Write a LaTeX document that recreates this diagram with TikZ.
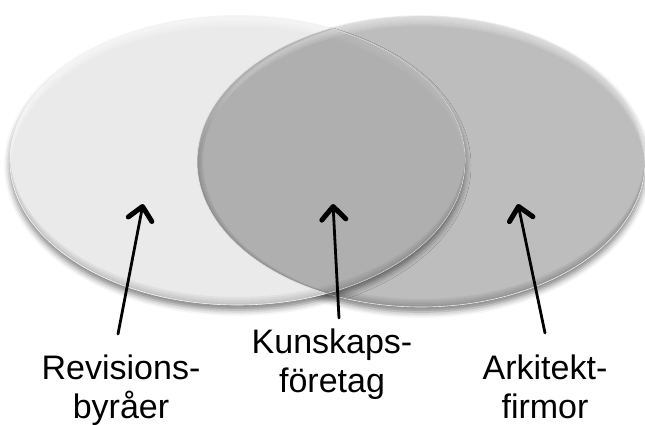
\documentclass[tikz,border=0pt]{standalone}
\usepackage{fontspec}
\setmainfont{Liberation Sans}
\usetikzlibrary{arrows.meta,shadows.blur}

\definecolor{lightfill}{HTML}{EAEAEA}
\definecolor{darkfill}{HTML}{BDBDBD}

\tikzset{
  ellL/.style={x radius=227.5, y radius=144.5},
  ellR/.style={x radius=224, y radius=145.5},
  softshadow/.style={blur shadow={shadow xshift=0pt, shadow yshift=-5pt,
      shadow blur radius=6pt, shadow opacity=50}},
  pointer/.style={line width=2.8pt, line cap=round,
      -{Straight Barb[length=13pt, width=24pt, line width=5pt, round]}},
  label/.style={font=\fontsize{34}{39}\selectfont, align=center, inner sep=0pt},
}

\begin{document}
\begin{tikzpicture}[x=1pt, y=-1pt]
  \useasboundingbox (0,0) rectangle (645,424);

  \coordinate (cL) at (237.5,160.5);
  \coordinate (cR) at (421,161.5);

  % right set (bottom layer)
  \path[softshadow] (cR) ellipse[ellR];
  \fill[darkfill] (cR) ellipse[ellR];
  \begin{scope}
    \clip (cR) ellipse[ellR];
    \foreach \k in {2,4,6,8,10}
      \fill[white, opacity=.12, even odd rule]
        (cR) ellipse[ellR] ([yshift=-\k pt]cR) ellipse[ellR];
    \foreach \k in {2,4,6,8}
      \fill[black, opacity=.05, even odd rule]
        (cR) ellipse[ellR] ([yshift=\k pt]cR) ellipse[ellR];
  \end{scope}
  \draw[white!85!gray, line width=.6pt] (cR) ellipse[ellR];

  % left set
  \path[softshadow] (cL) ellipse[ellL];
  \fill[lightfill] (cL) ellipse[ellL];
  \begin{scope}
    \clip (cL) ellipse[ellL];
    \foreach \k in {2,4,6,8,10}
      \fill[white, opacity=.15, even odd rule]
        (cL) ellipse[ellL] ([yshift=-\k pt]cL) ellipse[ellL];
    \foreach \k in {2,4,6,8}
      \fill[black, opacity=.04, even odd rule]
        (cL) ellipse[ellL] ([yshift=\k pt]cL) ellipse[ellL];
  \end{scope}
  \draw[white!92!gray, line width=.6pt] (cL) ellipse[ellL];

  % right set seen through, over the left one
  \begin{scope}
    \clip (cL) ellipse[ellL];
    \fill[black, opacity=.25] (cR) ellipse[ellR];
    \begin{scope}
      \clip (cR) ellipse[ellR];
      \foreach \k in {2,4,6,8,10}
        \fill[white, opacity=.10, even odd rule]
          (cR) ellipse[ellR] ([yshift=-\k pt]cR) ellipse[ellR];
      \foreach \k in {2,4,6}
        \fill[black, opacity=.06, even odd rule]
          (cR) ellipse[ellR] ([xshift=\k pt]cR) ellipse[ellR];
    \end{scope}
    \draw[white!80!gray, line width=.6pt] (cR) ellipse[ellR];
  \end{scope}

  % labels
  \node[label, anchor=base] (tR) at (121,418) {Revisions-\\byråer};
  \node[label, anchor=base] (tK) at (332,392) {Kunskaps-\\företag};
  \node[label, anchor=base] (tA) at (545,418) {Arkitekt-\\firmor};

  % pointers
  \coordinate (aR) at (118,334);
  \coordinate (hR) at (143,204);
  \coordinate (aK) at (339,318);
  \coordinate (hK) at (333,204);
  \coordinate (aA) at (545,333);
  \coordinate (hA) at (518,204);
  \draw[pointer] (aR) -- (hR);
  \draw[pointer] (aK) -- (hK);
  \draw[pointer] (aA) -- (hA);
\end{tikzpicture}
\end{document}
